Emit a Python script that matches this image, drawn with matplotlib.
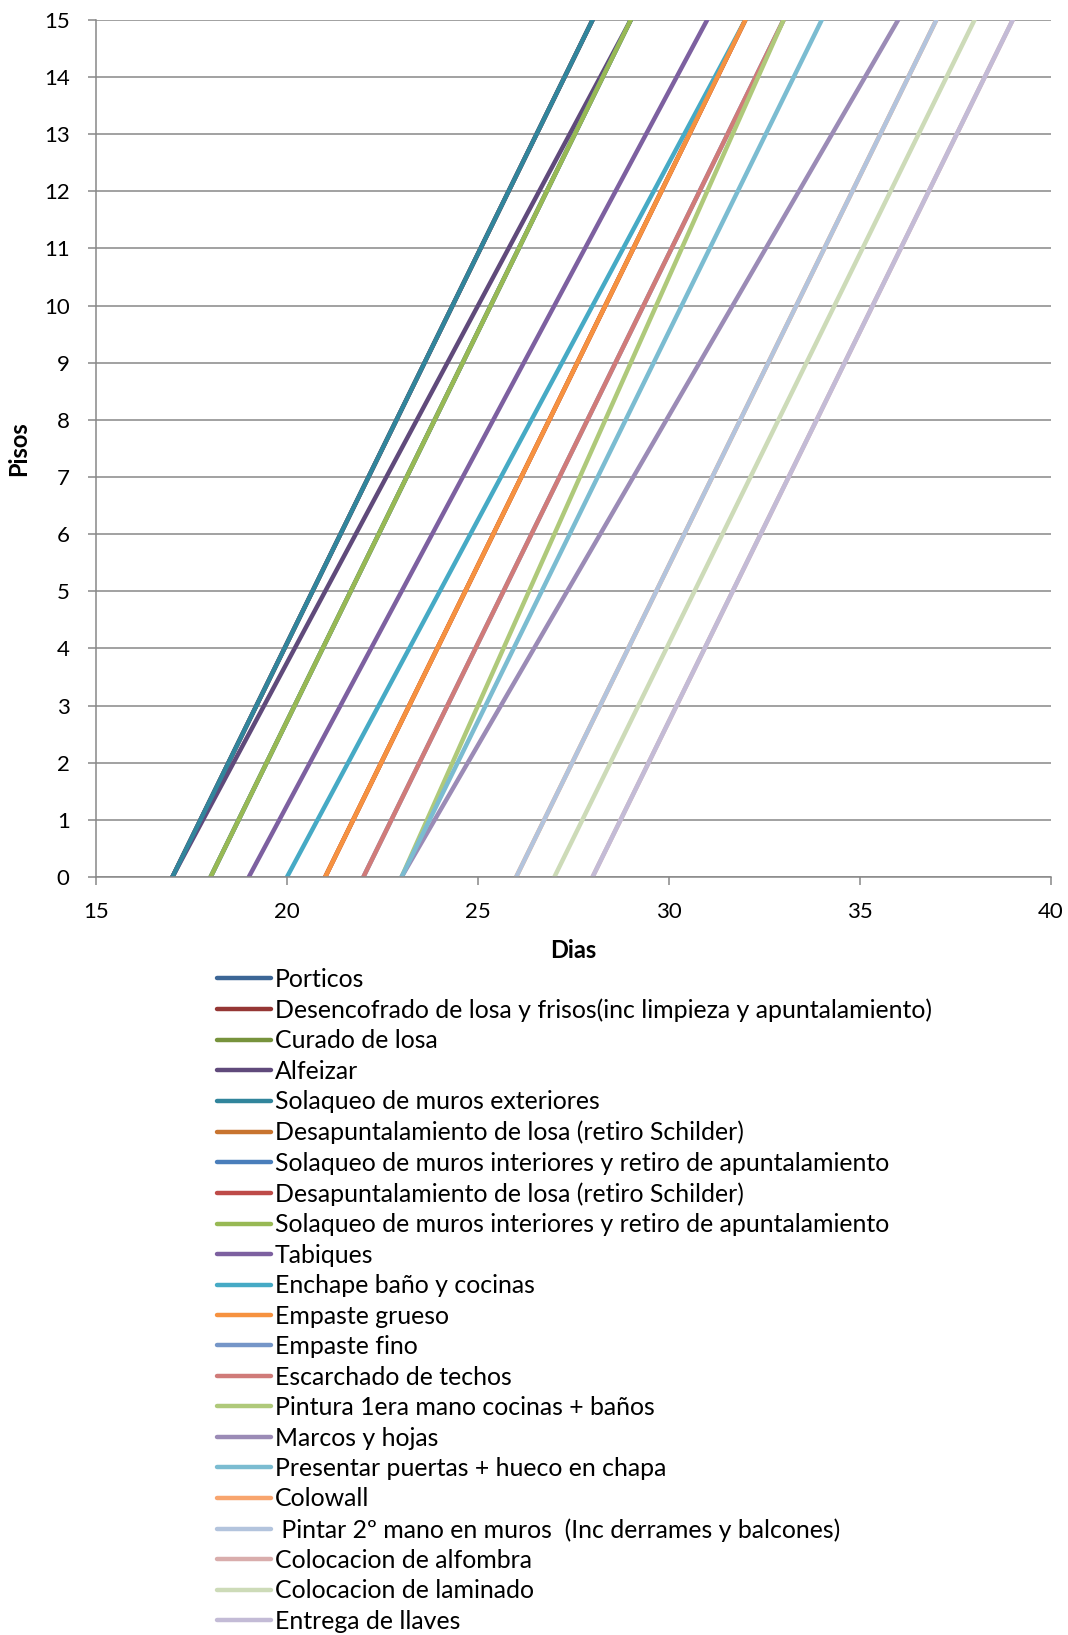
import matplotlib.pyplot as plt
from matplotlib.lines import Line2D

plt.rcParams['font.family'] = ['Lato', 'DejaVu Sans']

# Activities: start day (floor 0) and end day (floor 15)
actividades = [
    "Porticos",
    "Desencofrado de losa y frisos(inc limpieza y apuntalamiento)",
    "Curado de losa",
    "Alfeizar",
    "Solaqueo de muros exteriores",
    "Desapuntalamiento de losa (retiro Schilder)",
    "Solaqueo de muros interiores y retiro de apuntalamiento",
    "Desapuntalamiento de losa (retiro Schilder)",
    "Solaqueo de muros interiores y retiro de apuntalamiento",
    "Tabiques",
    "Enchape baño y cocinas",
    "Empaste grueso",
    "Empaste fino",
    "Escarchado de techos",
    "Pintura 1era mano cocinas + baños",
    "Marcos y hojas",
    "Presentar puertas + hueco en chapa",
    "Colowall",
    " Pintar 2º mano en muros  (Inc derrames y balcones)",
    "Colocacion de alfombra",
    "Colocacion de laminado",
    "Entrega de llaves",
]
dia_inicio = [17, 17, 18, 17, 17, 21, 18, 21, 18, 19, 20, 21, 22, 22, 23, 23, 23, 26, 26, 28, 27, 28]
dia_fin = [28, 28, 29, 29, 28, 32, 29, 32, 29, 31, 32, 32, 33, 33, 33, 36, 34, 37, 37, 39, 38, 39]
pisos = [0, 15]

colores = [
    "#3C6696", "#953735", "#77933C", "#604A7B", "#31859C", "#C8742F",
    "#4A7EBB", "#BE4B48", "#98B954", "#7D60A0", "#46AAC5", "#F69240",
    "#7596C8", "#D07B79", "#AFC97A", "#9B8BB6", "#7BBCD1", "#F8A56E",
    "#B3C4DD", "#D9ADAC", "#CDDBB8", "#C3BBD6",
]

fig = plt.figure(figsize=(10.68, 16.35), dpi=100)
ax = fig.add_axes([0.0899, 0.4636, 0.8941, 0.5242])

handles = []
for nombre, x0, x1, c in zip(actividades, dia_inicio, dia_fin, colores):
    ln, = ax.plot([x0, x1], pisos, color=c, linewidth=3.2, solid_capstyle='round', label=nombre)
    handles.append(ln)

ax.set_xlim(15, 40)
ax.set_ylim(0, 15)
ax.set_xticks(range(15, 41, 5))
ax.set_yticks(range(0, 16))
ax.yaxis.grid(True, color="#888888", linewidth=1.1)
ax.set_axisbelow(True)
for s in ("top", "right"):
    ax.spines[s].set_visible(False)
for s in ("left", "bottom"):
    ax.spines[s].set_color("#888888")
    ax.spines[s].set_linewidth(1.1)
ax.tick_params(colors="#888888", labelcolor="black", labelsize=16, length=6, width=1.1)
ax.tick_params(axis='x', pad=12)
ax.tick_params(axis='y', pad=13)

ax.set_xlabel("Dias", fontsize=17, fontweight='bold', labelpad=12)
ax.set_ylabel("Pisos", fontsize=17, fontweight='bold', labelpad=10)

leg_handles = [Line2D([0], [0], color=h.get_color(), linewidth=3.2, solid_capstyle='round') for h in handles]
fig.legend(leg_handles, actividades, loc='upper left', bbox_to_anchor=(0.203, 0.408),
           frameon=False, fontsize=17.9, handlelength=2.17, handletextpad=0.17,
           labelspacing=0.3, borderpad=0, borderaxespad=0)

fig.savefig("out.png", dpi=100)
